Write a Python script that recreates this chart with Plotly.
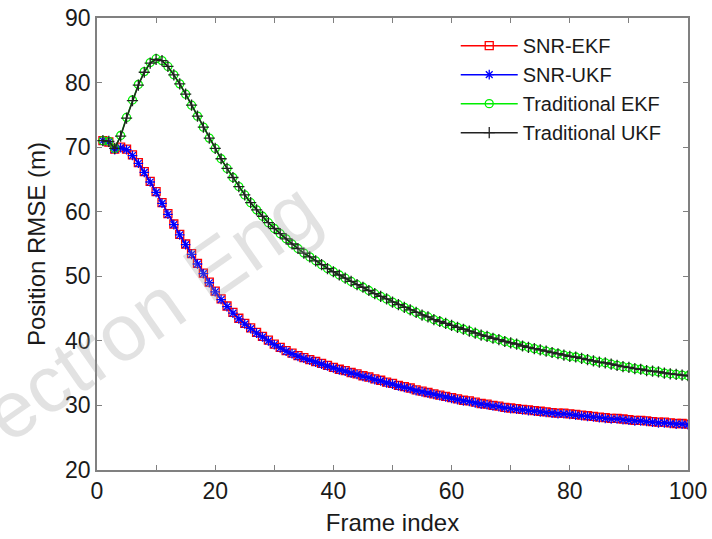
import plotly.graph_objects as go

frames = list(range(1, 101))

snr_ekf = [71.0, 70.8, 69.7, 70.0, 69.7, 68.8, 67.6, 66.2, 64.7, 63.1,
           61.4, 59.7, 58.1, 56.5, 55.0, 53.5, 52.0, 50.5, 49.1, 47.7,
           46.5, 45.4, 44.4, 43.5, 42.7, 42.0, 41.3, 40.7, 40.1, 39.5,
           39.0, 38.5, 38.1, 37.7, 37.4, 37.1, 36.8, 36.5, 36.2, 35.9,
           35.6, 35.4, 35.1, 34.9, 34.6, 34.4, 34.1, 33.9, 33.6, 33.4,
           33.1, 32.9, 32.7, 32.4, 32.2, 32.0, 31.8, 31.6, 31.4, 31.2,
           31.0, 30.8, 30.7, 30.5, 30.3, 30.2, 30.0, 29.9, 29.7, 29.6,
           29.5, 29.4, 29.3, 29.2, 29.1, 29.0, 28.9, 28.8, 28.8, 28.7,
           28.6, 28.5, 28.4, 28.3, 28.2, 28.1, 28.0, 28.0, 27.9, 27.8,
           27.7, 27.7, 27.6, 27.5, 27.4, 27.4, 27.3, 27.2, 27.2, 27.1]

snr_ukf = [71.0, 70.8, 69.6, 69.9, 69.6, 68.7, 67.5, 66.1, 64.6, 63.0,
           61.3, 59.6, 58.0, 56.4, 54.9, 53.4, 51.9, 50.4, 49.0, 47.6,
           46.4, 45.3, 44.3, 43.4, 42.6, 41.9, 41.2, 40.6, 40.0, 39.4,
           38.9, 38.4, 38.0, 37.6, 37.3, 37.0, 36.7, 36.4, 36.1, 35.8,
           35.5, 35.3, 35.0, 34.8, 34.5, 34.3, 34.0, 33.8, 33.5, 33.3,
           33.0, 32.8, 32.6, 32.3, 32.1, 31.9, 31.7, 31.5, 31.3, 31.1,
           30.9, 30.7, 30.6, 30.4, 30.2, 30.1, 29.9, 29.8, 29.6, 29.5,
           29.4, 29.3, 29.2, 29.1, 29.0, 28.9, 28.8, 28.7, 28.7, 28.6,
           28.5, 28.4, 28.3, 28.2, 28.1, 28.0, 27.9, 27.9, 27.8, 27.7,
           27.6, 27.6, 27.5, 27.4, 27.3, 27.3, 27.2, 27.1, 27.1, 27.0]

trad_ekf = [71.0, 70.9, 69.8, 71.8, 74.6, 77.3, 79.7, 81.7, 83.1, 83.7,
            83.4, 82.5, 81.2, 79.8, 78.2, 76.5, 74.8, 73.1, 71.4, 69.8,
            68.2, 66.7, 65.3, 63.9, 62.6, 61.4, 60.3, 59.3, 58.3, 57.4,
            56.6, 55.8, 55.0, 54.3, 53.6, 53.0, 52.4, 51.8, 51.2, 50.7,
            50.2, 49.7, 49.2, 48.7, 48.3, 47.8, 47.3, 46.9, 46.5, 46.0,
            45.6, 45.2, 44.8, 44.4, 44.0, 43.7, 43.3, 43.0, 42.7, 42.4,
            42.1, 41.8, 41.5, 41.2, 40.9, 40.7, 40.4, 40.2, 39.9, 39.7,
            39.5, 39.2, 39.0, 38.8, 38.6, 38.4, 38.2, 38.0, 37.8, 37.6,
            37.5, 37.3, 37.1, 36.9, 36.7, 36.6, 36.4, 36.2, 36.0, 35.9,
            35.7, 35.6, 35.4, 35.3, 35.2, 35.0, 34.9, 34.8, 34.7, 34.6]

trad_ukf = [71.0, 70.9, 69.8, 71.7, 74.5, 77.2, 79.6, 81.6, 83.0, 83.6,
            83.4, 82.5, 81.2, 79.8, 78.2, 76.5, 74.8, 73.1, 71.4, 69.8,
            68.2, 66.7, 65.3, 63.9, 62.6, 61.4, 60.3, 59.3, 58.3, 57.4,
            56.6, 55.8, 55.0, 54.3, 53.6, 53.0, 52.4, 51.8, 51.2, 50.7,
            50.2, 49.7, 49.2, 48.7, 48.3, 47.8, 47.3, 46.9, 46.5, 46.0,
            45.6, 45.2, 44.8, 44.4, 44.0, 43.7, 43.3, 43.0, 42.7, 42.4,
            42.1, 41.8, 41.5, 41.2, 40.9, 40.7, 40.4, 40.2, 39.9, 39.7,
            39.5, 39.2, 39.0, 38.8, 38.6, 38.4, 38.2, 38.0, 37.8, 37.6,
            37.5, 37.3, 37.1, 36.9, 36.7, 36.6, 36.4, 36.2, 36.0, 35.9,
            35.7, 35.6, 35.4, 35.3, 35.2, 35.0, 34.9, 34.8, 34.7, 34.6]

series_names = ["SNR-EKF", "SNR-UKF", "Traditional EKF", "Traditional UKF"]
x_tick_vals = list(range(0, 101, 10))
x_tick_text = ["0", "", "20", "", "40", "", "60", "", "80", "", "100"]
y_tick_vals = list(range(20, 91, 10))

FONT = "Arial, Liberation Sans, sans-serif"

styles = [
    dict(color="#ff0000", symbol="square-open"),
    dict(color="#0000ff", symbol="asterisk-open"),
    dict(color="#00ee00", symbol="circle-open"),
    dict(color="#222222", symbol="cross-thin-open"),
]

fig = go.Figure()
for name, ys, st in zip(series_names, [snr_ekf, snr_ukf, trad_ekf, trad_ukf], styles):
    fig.add_trace(go.Scatter(
        x=frames, y=ys, name=name, mode="lines+markers",
        line=dict(color=st["color"], width=1.5),
        marker=dict(symbol=st["symbol"], size=8, color=st["color"],
                    line=dict(color=st["color"], width=1.3)),
    ))

axis_common = dict(
    showline=True, linecolor="#808080", linewidth=1.5, mirror="allticks",
    ticks="inside", ticklen=5, tickcolor="#808080", tickwidth=1.2,
    showgrid=False, zeroline=False, automargin=False,
    tickfont=dict(family=FONT, size=23, color="#1a1a1a"),
)

fig.update_layout(
    width=712, height=539,
    margin=dict(l=97, r=24, t=18, b=69),
    paper_bgcolor="white", plot_bgcolor="white",
    xaxis=dict(range=[0, 100], tickmode="array", tickvals=x_tick_vals,
               ticktext=x_tick_text,
               title=dict(text="Frame index", font=dict(family=FONT, size=24, color="#1a1a1a"),
                          standoff=11),
               **axis_common),
    yaxis=dict(range=[20, 90], tickmode="array", tickvals=y_tick_vals,
               title=dict(text="Position RMSE (m)", font=dict(family=FONT, size=24, color="#1a1a1a"),
                          standoff=13),
               **axis_common),
    legend=dict(x=0.607, y=0.982, xanchor="left", yanchor="top",
                bgcolor="rgba(255,255,255,0)", borderwidth=0,
                font=dict(family=FONT, size=20, color="#1a1a1a"),
                itemwidth=57),
    showlegend=True,
    annotations=[dict(
        text="ectron Eng", xref="paper", yref="paper",
        x=0.092, y=0.35, xanchor="center", yanchor="middle",
        textangle=-35, showarrow=False,
        font=dict(family=FONT, size=80, color="rgba(150,150,150,0.28)"),
    )],
)

fig.write_html("out.html")
